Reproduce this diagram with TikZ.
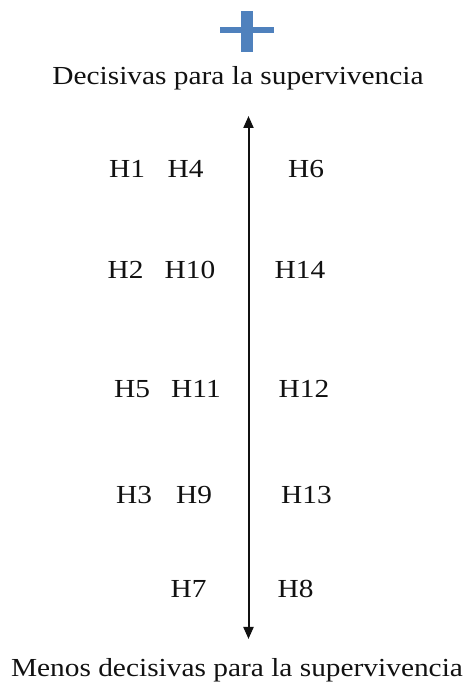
\documentclass[tikz,border=0pt]{standalone}
\usepackage{fontspec}
\setmainfont[FakeStretch=1.13]{Liberation Serif}
\usetikzlibrary{arrows.meta}
\definecolor{plusblue}{HTML}{4F81BD}
\definecolor{ink}{HTML}{111111}
\tikzset{
  lbl/.style={inner sep=0pt, anchor=base, text=ink, font=\fontsize{26}{30}\selectfont},
  axis/.style={draw=ink, line width=2pt, {Triangle[width=10pt,length=12pt]}-{Triangle[width=10pt,length=12pt]}}
}
\begin{document}
\begin{tikzpicture}[x=1pt,y=1pt]
\useasboundingbox (0,0) rectangle (473,691);
% plus sign
\fill[plusblue] (220,691-27) rectangle (274,691-33.5);
\fill[plusblue] (241,691-11) rectangle (253,691-52);
% titles
\node[lbl] (top) at (238,691-85) {Decisivas para la supervivencia};
\node[lbl] (bot) at (237,691-677) {Menos decisivas para la supervivencia};
% axis
\coordinate (atop) at (248.5,691-116);
\coordinate (abot) at (248.5,691-639);
\draw[axis] (abot) -- (atop);
% labels
\node[lbl] (h1) at (127,691-178) {H1};
\node[lbl] (h4) at (185.5,691-178) {H4};
\node[lbl] (h6) at (306,691-178) {H6};
\node[lbl] (h2) at (125.5,691-279) {H2};
\node[lbl] (h10) at (190,691-279) {H10};
\node[lbl] (h14) at (300,691-279) {H14};
\node[lbl] (h5) at (132,691-398) {H5};
\node[lbl] (h11) at (196,691-398) {H11};
\node[lbl] (h12) at (304,691-398) {H12};
\node[lbl] (h3) at (134,691-504) {H3};
\node[lbl] (h9) at (194,691-504) {H9};
\node[lbl] (h13) at (306.5,691-504) {H13};
\node[lbl] (h7) at (188.5,691-598) {H7};
\node[lbl] (h8) at (295.5,691-598) {H8};
\end{tikzpicture}
\end{document}
